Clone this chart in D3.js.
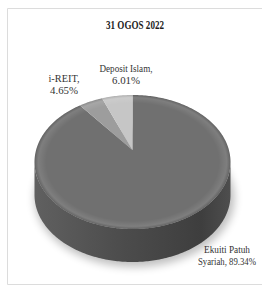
<!DOCTYPE html>
<html>
<head>
<meta charset="utf-8">
<script src="https://cdn.jsdelivr.net/npm/d3@7"></script>
<style>
  html, body { margin: 0; padding: 0; background: #fff; }
  svg { display: block; }
</style>
</head>
<body>
<div id="chart"></div>
<script>
// values (clockwise from 12 o'clock)
const categories = ['Ekuiti Patuh Syariah', 'i-REIT', 'Deposit Islam'];
const values = [89.34, 4.65, 6.01];
const colors = ['#707070', '#9d9d9d', '#c6c6c6'];
const labelLines = [
  ['Ekuiti Patuh', 'Syariah, 89.34%'],
  ['i-REIT,', '4.65%'],
  ['Deposit Islam,', '6.01%']
];
const title = '31 OGOS 2022';

const width = 262, height = 287;
const cx = 132.5, cy = 162, rx = 98, ry = 67, depth = 33;
const tilt = -0.18; // where the pie centre falls inside the top ellipse

const svg = d3.select('#chart').append('svg')
  .attr('width', width).attr('height', height);

const defs = svg.append('defs');
const blur = defs.append('filter').attr('id', 'shadow')
  .attr('x', '-20%').attr('y', '-20%').attr('width', '140%').attr('height', '140%');
blur.append('feGaussianBlur').attr('stdDeviation', 4);

const sideGrad = defs.append('linearGradient').attr('id', 'side')
  .attr('x1', 0).attr('x2', 1).attr('y1', 0).attr('y2', 0);
sideGrad.append('stop').attr('offset', '0%').attr('stop-color', '#606060');
sideGrad.append('stop').attr('offset', '45%').attr('stop-color', '#4c4c4c');
sideGrad.append('stop').attr('offset', '85%').attr('stop-color', '#3e3e3e');
sideGrad.append('stop').attr('offset', '100%').attr('stop-color', '#4e4e4e');

const rimGrad = defs.append('radialGradient').attr('id', 'rim')
  .attr('cx', '50%').attr('cy', '50%').attr('r', '50%');
rimGrad.append('stop').attr('offset', '88%').attr('stop-color', '#fff').attr('stop-opacity', 0);
rimGrad.append('stop').attr('offset', '96%').attr('stop-color', '#fff').attr('stop-opacity', 0.10);
rimGrad.append('stop').attr('offset', '100%').attr('stop-color', '#000').attr('stop-opacity', 0.12);

// chart frame
svg.append('path')
  .attr('d', `M${width},8.5H7.5V284.5H${width}`)
  .attr('fill', 'none').attr('stroke', '#dcdcdc').attr('stroke-width', 1);

// pie layout in the plane of the disc, then a perspective map to screen
const pie = d3.pie().sort(null).value(d => d)(values);

function project(theta, r) {
  const u = r * Math.sin(theta), v = -r * Math.cos(theta);
  const den = 1 + tilt * v;
  return [cx + rx * u * Math.sqrt(1 - tilt * tilt) / den,
          cy + ry * (v + tilt) / den];
}

function slicePath(a0, a1) {
  const n = Math.max(4, Math.ceil((a1 - a0) / 0.02));
  const pts = [project(0, 0)];
  for (let i = 0; i <= n; i++) pts.push(project(a0 + (a1 - a0) * i / n, 1));
  return d3.line()(pts) + 'Z';
}

// soft shadow under the disc
svg.append('ellipse')
  .attr('cx', cx + 2).attr('cy', cy + depth + 3)
  .attr('rx', rx + 2).attr('ry', ry + 2)
  .attr('fill', '#000').attr('opacity', 0.25)
  .attr('filter', 'url(#shadow)');

// side wall (front half only)
const sideTop = d3.range(0, 181).map(i => {
  const t = Math.PI * i / 180;
  return [cx - rx * Math.cos(t), cy + ry * Math.sin(t)];
});
const sideBottom = sideTop.slice().reverse().map(p => [p[0], p[1] + depth]);
svg.append('path')
  .attr('d', d3.line()(sideTop.concat(sideBottom)) + 'Z')
  .attr('fill', 'url(#side)');

// top faces
svg.selectAll('.slice')
  .data(pie).enter()
  .append('path')
  .attr('class', 'slice')
  .attr('d', d => slicePath(d.startAngle, d.endAngle))
  .attr('fill', (d, i) => colors[i]);

// bevel on the rim
svg.append('ellipse')
  .attr('cx', cx).attr('cy', cy).attr('rx', rx).attr('ry', ry)
  .attr('fill', 'url(#rim)');

// title
svg.append('text')
  .attr('x', 135).attr('y', 29)
  .attr('text-anchor', 'middle')
  .attr('font-family', 'Liberation Serif, serif')
  .attr('font-weight', 'bold').attr('font-size', 11.5)
  .attr('textLength', 58).attr('lengthAdjust', 'spacingAndGlyphs')
  .attr('fill', '#1e1e1e')
  .text(title);

// data labels
const labelPos = [[227, 253], [64, 82], [126, 72]];
const lineWidths = [[46, 58], [31, 28], [53, 28]];
labelLines.forEach((lines, i) => {
  lines.forEach((t, j) => {
    svg.append('text')
      .attr('x', labelPos[i][0]).attr('y', labelPos[i][1] + j * 12)
      .attr('text-anchor', 'middle')
      .attr('font-family', 'Liberation Serif, serif')
      .attr('font-size', 11)
      .attr('textLength', lineWidths[i][j]).attr('lengthAdjust', 'spacingAndGlyphs')
      .attr('fill', '#333')
      .text(t);
  });
});
</script>
</body>
</html>
